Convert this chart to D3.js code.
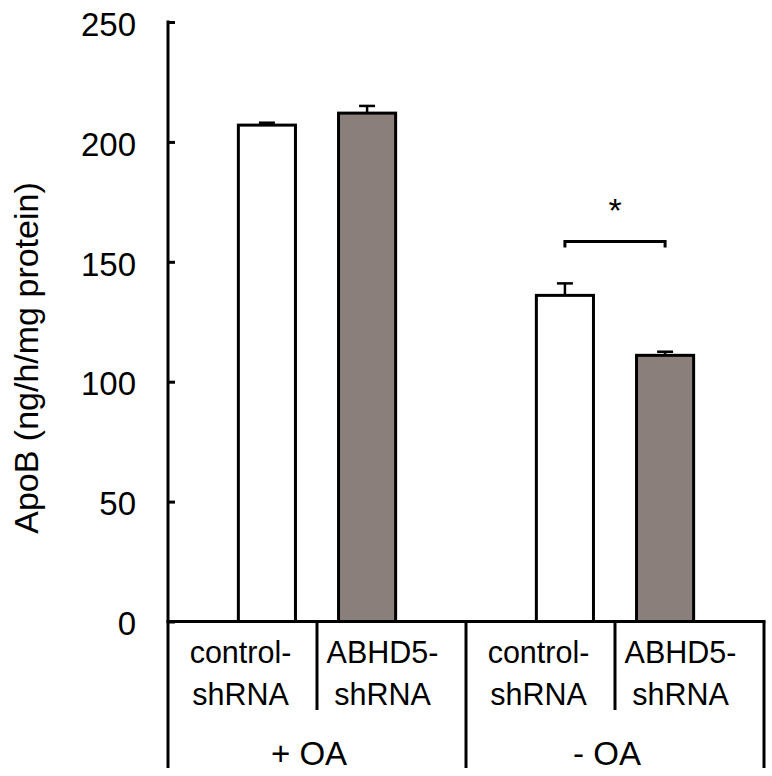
<!DOCTYPE html>
<html>
<head>
<meta charset="utf-8">
<script src="https://cdn.jsdelivr.net/npm/d3@7"></script>
<style>
  html, body { margin: 0; padding: 0; background: #fff; }
  svg { display: block; font-family: "Liberation Sans", Arial, Helvetica, sans-serif; }
</style>
</head>
<body>
<svg id="chart" width="772" height="776"></svg>
<script>
// ---- data ----
const groups = ["+ OA", "- OA"];
const treatments = ["control-shRNA", "ABHD5-shRNA"];
const labelLines = [["control-", "shRNA"], ["ABHD5-", "shRNA"]];
const plusOA = [207, 212];
const plusOAErr = [1, 3];
const minusOA = [136, 111];
const minusOAErr = [5, 1.5];
const yTicks = [0, 50, 100, 150, 200, 250];
const yLabel = "ApoB (ng/h/mg protein)";
const sigGroup = "- OA";
const sigLevel = 158.5;
const sigText = "*";

const values = [plusOA, minusOA];
const errors = [plusOAErr, minusOAErr];
const fills = ["#ffffff", "#8b7f7b"];

const svg = d3.select("#chart");
const x0 = 168, x1 = 764, yTop = 22, yBase = 621.5, yBottom = 768;

const y = d3.scaleLinear().domain([0, 250]).range([yBase, yTop]);
const xGroup = d3.scaleBand().domain(groups).range([x0, x1]).padding(0);
const xBar = d3.scaleBand().domain(treatments).range([0, xGroup.bandwidth()])
  .paddingInner(0.4).paddingOuter(0.6875);
const xSlot = d3.scaleBand().domain(treatments).range([0, xGroup.bandwidth()]).padding(0);

// bars
const data = [];
groups.forEach((g, gi) => treatments.forEach((t, ti) => {
  data.push({ g, t, ti, v: values[gi][ti], e: errors[gi][ti] });
}));

const bars = svg.append("g");
// error bars first (behind)
data.forEach(d => {
  const cx = xGroup(d.g) + xBar(d.t) + xBar.bandwidth() / 2;
  bars.append("line").attr("x1", cx).attr("x2", cx)
    .attr("y1", y(d.v)).attr("y2", y(d.v + d.e))
    .attr("stroke", "#000").attr("stroke-width", 2.5);
  bars.append("line").attr("x1", cx - 8).attr("x2", cx + 8)
    .attr("y1", y(d.v + d.e)).attr("y2", y(d.v + d.e))
    .attr("stroke", "#000").attr("stroke-width", 2.5);
});
data.forEach(d => {
  bars.append("rect")
    .attr("x", xGroup(d.g) + xBar(d.t) + 1.5)
    .attr("y", y(d.v))
    .attr("width", xBar.bandwidth() - 3)
    .attr("height", yBase - y(d.v))
    .attr("fill", fills[d.ti])
    .attr("stroke", "#000")
    .attr("stroke-width", 3);
});

// y axis
const axis = d3.axisLeft(y).tickValues(yTicks).tickSizeInner(-7).tickSizeOuter(0).tickPadding(32);
const ax = svg.append("g").attr("transform", `translate(${x0},0)`).call(axis);
ax.select(".domain").remove();
ax.selectAll(".tick line").attr("stroke", "#000").attr("stroke-width", 3);
ax.selectAll(".tick text").attr("font-size", 33).attr("fill", "#000")
  .attr("font-family", "Liberation Sans, Arial, sans-serif").attr("dy", "0.4em");

// frame lines
const lines = svg.append("g").attr("stroke", "#000").attr("stroke-width", 3).attr("fill", "none");
lines.append("line").attr("x1", x0).attr("x2", x0).attr("y1", yTop - 1.5).attr("y2", yBottom);
lines.append("line").attr("x1", x0 - 1.5).attr("x2", x1 + 1.5).attr("y1", yBase).attr("y2", yBase);
groups.forEach(g => {
  const gx = xGroup(g);
  // inner divider
  const ix = gx + xSlot(treatments[1]);
  lines.append("line").attr("x1", ix).attr("x2", ix).attr("y1", yBase).attr("y2", 710);
  // right edge of group
  const rx = gx + xGroup.bandwidth();
  lines.append("line").attr("x1", rx).attr("x2", rx).attr("y1", yBase).attr("y2", yBottom);
});

// category labels
const labs = svg.append("g").attr("font-size", 30.5).attr("fill", "#000").attr("text-anchor", "middle");
const slotShift = [-2, -9];
groups.forEach(g => {
  treatments.forEach((t, ti) => {
    const cx = xGroup(g) + xSlot(t) + xSlot.bandwidth() / 2 + slotShift[ti];
    labs.append("text").attr("x", cx).attr("y", 663).text(labelLines[ti][0]);
    labs.append("text").attr("x", cx).attr("y", 705).text(labelLines[ti][1]);
  });
  labs.append("text").attr("x", xGroup(g) + xGroup.bandwidth() / 2 - 8).attr("y", 765)
    .attr("font-size", 33).text(g);
});

// y-axis label
svg.append("text")
  .attr("transform", `translate(38,${(178 + 538) / 2}) rotate(-90)`)
  .attr("text-anchor", "middle")
  .attr("font-size", 34)
  .attr("fill", "#000")
  .text(yLabel);

// significance bracket
const sg = xGroup(sigGroup);
const bx1 = sg + xBar(treatments[0]) + xBar.bandwidth() / 2;
const bx2 = sg + xBar(treatments[1]) + xBar.bandwidth() / 2;
svg.append("path")
  .attr("d", `M${bx1},${y(sigLevel - 2.5)} L${bx1},${y(sigLevel)} L${bx2},${y(sigLevel)} L${bx2},${y(sigLevel - 2.5)}`)
  .attr("fill", "none").attr("stroke", "#000").attr("stroke-width", 3);
svg.append("text")
  .attr("x", (bx1 + bx2) / 2)
  .attr("y", 222)
  .attr("text-anchor", "middle")
  .attr("font-size", 34)
  .attr("fill", "#000")
  .text(sigText);
</script>
</body>
</html>
